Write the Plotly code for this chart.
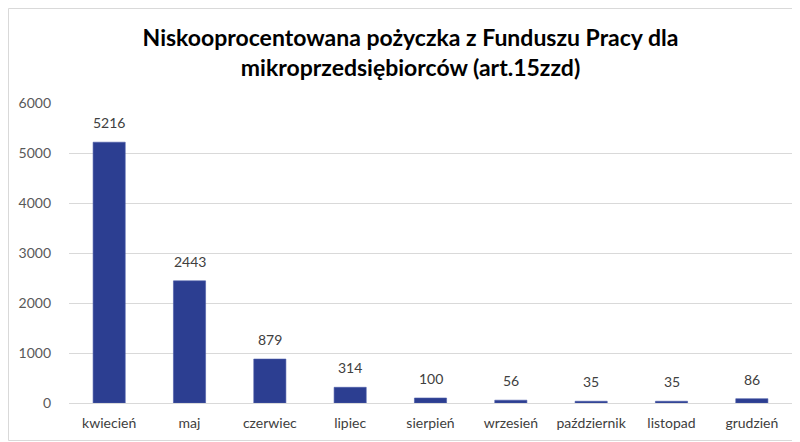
import plotly.graph_objects as go

months = ["kwiecień", "maj", "czerwiec", "lipiec", "sierpień", "wrzesień", "październik", "listopad", "grudzień"]
values = [5216, 2443, 879, 314, 100, 56, 35, 35, 86]
title_text = "Niskooprocentowana pożyczka z Funduszu Pracy dla<br>mikroprzedsiębiorców (art.15zzd)"

W, H = 800, 442
OFF = 8  # page body margin
ml, mr, mt, mb = 69 - OFF, 8 + OFF, 103 - OFF, 39 + OFF
pw, ph = W - ml - mr, H - mt - mb

def px_x(p):
    return (p - OFF - ml) / pw

def px_y(p):
    return (H - mb - (p - OFF)) / ph

fig = go.Figure(go.Bar(
    x=months, y=values,
    marker=dict(color="#2C3E91", line=dict(color="#4A5AA8", width=0.6)),
    hoverinfo="x+y",
))

for m, v in zip(months, values):
    fig.add_annotation(x=m, y=v, text=str(v), showarrow=False, yanchor="bottom", yshift=9,
                       font=dict(family="Lato, Open Sans, sans-serif", size=14, color="#404040"))

fig.update_layout(
    width=W, height=H,
    margin=dict(l=ml, r=mr, t=mt, b=mb),
    paper_bgcolor="white", plot_bgcolor="white",
    bargap=0.6,
    showlegend=False,
    title=dict(text=title_text, x=(410.5 - OFF) / W, xref="container", xanchor="center",
               y=1 - (46 - OFF) / H, yanchor="middle",
               font=dict(family="Lato, sans-serif", size=23, color="#000000", weight="bold")),
    font=dict(family="Lato, Open Sans, sans-serif", size=14, color="#595959"),
    shapes=[dict(type="rect", xref="paper", yref="paper",
                 x0=px_x(8.5), x1=px_x(799), y0=px_y(440.5), y1=px_y(8.5),
                 line=dict(color="#D9D9D9", width=1), layer="below")],
)
fig.update_xaxes(showgrid=False, showline=False, ticks="", ticklabelstandoff=10,
                 tickfont=dict(size=14, color="#404040"))
fig.update_yaxes(range=[0, 6000], dtick=1000, showgrid=True, gridcolor="#D9D9D9", gridwidth=1,
                 zeroline=True, zerolinecolor="#D9D9D9", zerolinewidth=1,
                 showline=False, ticks="", ticklabelstandoff=17,
                 tickfont=dict(size=14, color="#595959"))

fig.write_html("out.html")
